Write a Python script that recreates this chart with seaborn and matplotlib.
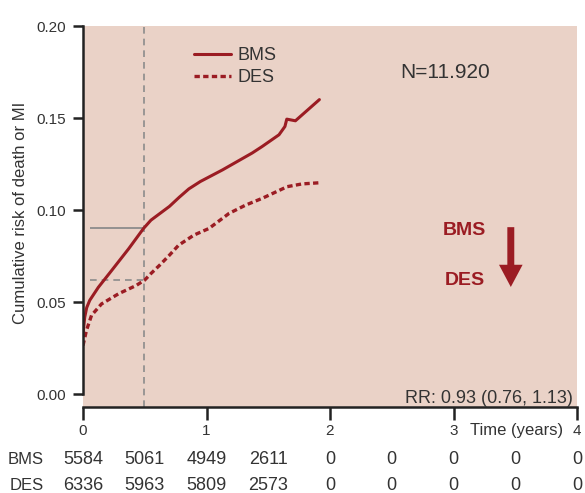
import numpy as np
import pandas as pd
import matplotlib
matplotlib.use("Agg")
import matplotlib.pyplot as plt
import matplotlib.transforms as mtransforms
from matplotlib import font_manager
import seaborn as sns

# curve values
bms_t = [0, 0.005, 0.014, 0.03, 0.055, 0.124, 0.23, 0.37, 0.49, 0.55, 0.62, 0.70, 0.78,
         0.857, 0.95, 1.129, 1.37, 1.45, 1.587, 1.635, 1.65, 1.72, 1.914]
bms_y = [0.0312, 0.036, 0.0418, 0.047, 0.051, 0.058, 0.067, 0.079, 0.090, 0.0945, 0.098,
         0.102, 0.107, 0.1115, 0.1155, 0.1218, 0.131, 0.1345, 0.1409, 0.1454, 0.1494,
         0.1485, 0.160]
des_t = [0, 0.028, 0.069, 0.15, 0.29, 0.43, 0.50, 0.55, 0.62, 0.70, 0.774, 0.898, 1.02,
         1.183, 1.317, 1.452, 1.653, 1.774, 1.93]
des_y = [0.0264, 0.0346, 0.0428, 0.049, 0.0546, 0.059, 0.062, 0.0655, 0.070, 0.0755, 0.0809,
         0.0864, 0.090, 0.0982, 0.1027, 0.1064, 0.1127, 0.1142, 0.1149]

marker_t = 0.49
bms_mark = 0.090
des_mark = 0.062

risk_t = [0, 0.5, 1, 1.5, 2, 2.5, 3, 3.5, 4]
bms_risk = [5584, 5061, 4949, 2611, 0, 0, 0, 0, 0]
des_risk = [6336, 5963, 5809, 2573, 0, 0, 0, 0, 0]

red = "#9B1C23"
bg = "#EAD2C7"
grey = "#8C8C8C"
txt = "#333333"

sns.set_style("ticks")
plt.rcParams['font.family'] = ['Liberation Sans', 'DejaVu Sans']
installed = {f.name for f in font_manager.fontManager.ttflist}
has_narrow = 'Liberation Sans Narrow' in installed
narrow = ['Liberation Sans Narrow', 'Liberation Sans', 'DejaVu Sans'] if has_narrow else ['Liberation Sans', 'DejaVu Sans']
tick_fs = 12 if has_narrow else 11
time_fs = 13 if has_narrow else 12

fig = plt.figure(figsize=(5.85, 4.93), dpi=100)
ax = fig.add_axes([83/585, 1-407/493, 494/585, 381/493])
ax.set_facecolor(bg)

df = pd.concat([pd.DataFrame({'t': bms_t, 'risk': bms_y, 'group': 'BMS'}),
                pd.DataFrame({'t': des_t, 'risk': des_y, 'group': 'DES'})])

sns.lineplot(data=df[df.group == 'BMS'], x='t', y='risk', ax=ax, color=red, lw=2.2,
             estimator=None, label='BMS')
sns.lineplot(data=df[df.group == 'DES'], x='t', y='risk', ax=ax, color=red, lw=2.4,
             estimator=None, label='DES', linestyle=(0, (1.6, 1.0)))

ax.axvline(marker_t, color=grey, lw=1.2, ls=(0, (4, 3)), zorder=1)
ax.hlines(bms_mark, 0.055, marker_t, color=grey, lw=1.3, zorder=1)
ax.hlines(des_mark, 0.055, marker_t, color=grey, lw=1.2, ls=(0, (4, 3)), zorder=1)

ax.set_xlim(0, 4)
ax.set_ylim(-0.007, 0.2)
ax.set_xticks([0, 1, 2, 3, 4])
ax.set_xticklabels(['0', '1', '2', '3', '4'])
ax.set_yticks([0, 0.05, 0.10, 0.15, 0.20])
ax.set_yticklabels(['0.00', '0.05', '0.10', '0.15', '0.20'])
for lab in ax.get_xticklabels() + ax.get_yticklabels():
    lab.set_family(narrow)
    lab.set_fontsize(tick_fs)
    lab.set_color(txt)
ax.tick_params(axis='y', length=7, width=1.8, pad=5, color='#222222')
ax.tick_params(axis='x', length=9, width=1.8, pad=3, color='#222222')
sns.despine(ax=ax)
ax.spines['left'].set_bounds(0, 0.2)
ax.spines['left'].set_linewidth(1.8)
ax.spines['bottom'].set_linewidth(1.8)
ax.spines['left'].set_color('#222222')
ax.spines['bottom'].set_color('#222222')

ax.set_ylabel('Cumulative risk of death or MI', fontsize=12, color=txt)
ax.yaxis.set_label_coords(-0.111, 0.51)
ax.set_xlabel('Time (years)', fontsize=time_fs, color=txt, family=narrow)
ax.xaxis.set_label_coords(0.877, -0.042)

leg = ax.legend(loc='upper left', bbox_to_anchor=(0.225, 0.945), frameon=False,
                fontsize=13, handlelength=2.05, handletextpad=0.35, labelspacing=0.3,
                borderpad=0, borderaxespad=0)
for t in leg.get_texts():
    t.set_color(txt)

ax.text(0.733, 0.877, 'N=11.920', transform=ax.transAxes, fontsize=15, color=txt,
        ha='center', va='center')
ax.text(0.773, 0.462, 'BMS', transform=ax.transAxes, fontsize=14, color=red,
        fontweight='bold', ha='center', va='center', family=narrow)
ax.text(0.773, 0.333, 'DES', transform=ax.transAxes, fontsize=14, color=red,
        fontweight='bold', ha='center', va='center', family=narrow)
ax.annotate('', xy=(0.866, 0.315), xytext=(0.866, 0.472), xycoords='axes fraction',
            arrowprops=dict(width=5, headwidth=17, headlength=16, shrink=0, color=red, lw=0))
ax.text(0.992, 0.022, 'RR: 0.93 (0.76, 1.13)', transform=ax.transAxes, fontsize=13,
        color=txt, ha='right', va='center')

# number at risk table
tr = mtransforms.blended_transform_factory(ax.transData, ax.transAxes)
ax.text(-0.08, -0.139, 'BMS', transform=ax.transAxes, fontsize=12, color=txt,
        ha='right', va='center', clip_on=False)
ax.text(-0.08, -0.205, 'DES', transform=ax.transAxes, fontsize=12, color=txt,
        ha='right', va='center', clip_on=False)
for x, a, b in zip(risk_t, bms_risk, des_risk):
    ax.text(x, -0.139, str(a), transform=tr, fontsize=13, color=txt, ha='center',
            va='center', clip_on=False)
    ax.text(x, -0.205, str(b), transform=tr, fontsize=13, color=txt, ha='center',
            va='center', clip_on=False)

fig.savefig('out.png', dpi=100)
